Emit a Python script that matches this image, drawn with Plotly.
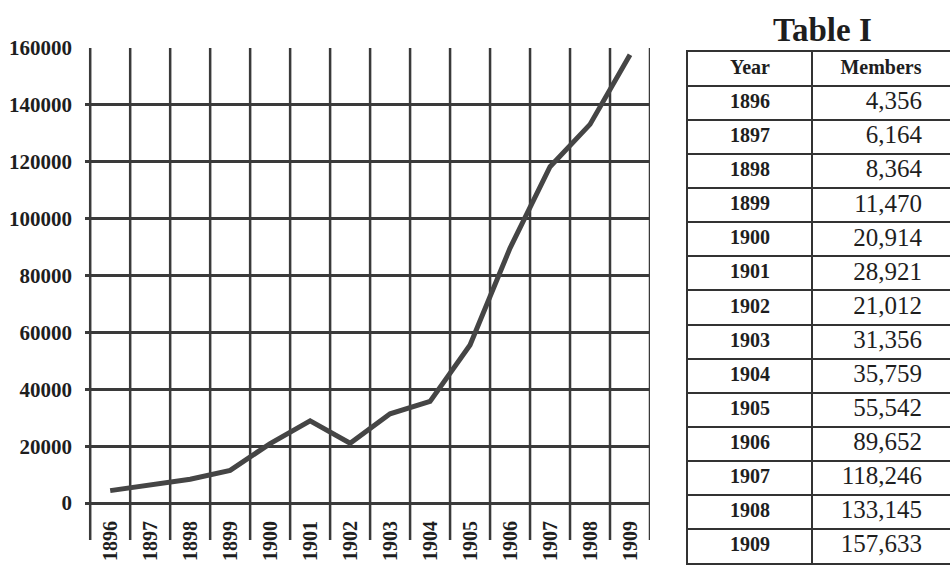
import plotly.graph_objects as go

years = [1896, 1897, 1898, 1899, 1900, 1901, 1902, 1903, 1904, 1905, 1906, 1907, 1908, 1909]
members = [4356, 6164, 8364, 11470, 20914, 28921, 21012, 31356, 35759, 55542, 89652, 118246, 133145, 157633]
y_ticks = [0, 20000, 40000, 60000, 80000, 100000, 120000, 140000, 160000]
table_headers = ["Year", "Members"]

W, H = 950, 566
SERIF = "Liberation Serif, Times New Roman, serif"
GRID = "#3a3a3a"
TXT = "#1e1e1e"

idx = list(range(len(years)))
boundaries = [i - 0.5 for i in range(len(years) + 1)]

fig = go.Figure()

# ---- chart ----
fig.add_trace(go.Scatter(
    x=idx, y=members, mode="lines",
    line=dict(color="#454545", width=5),
    showlegend=False, hoverinfo="skip",
    xaxis="x", yaxis="y",
))

for b in boundaries:
    fig.add_shape(type="line", xref="x", yref="y", x0=b, x1=b, y0=-13000, y1=160000,
                  line=dict(color=GRID, width=2.5), layer="below")

# ---- table drawn on its own axes ----
COL1_W, COL2_W = 124, 138
n_rows = len(years) + 1
row_centers = [i + 1.5 for i in idx]

fig.add_trace(go.Scatter(
    x=[COL1_W / 2, COL1_W + COL2_W / 2], y=[0.5, 0.5], mode="text",
    text=[f"<b>{h}</b>" for h in table_headers], textposition="middle center",
    textfont=dict(family=SERIF, size=20, color=TXT),
    showlegend=False, hoverinfo="skip", xaxis="x2", yaxis="y2",
))
fig.add_trace(go.Scatter(
    x=[COL1_W / 2] * len(years), y=row_centers, mode="text",
    text=[f"<b>{y}</b>" for y in years], textposition="middle center",
    textfont=dict(family=SERIF, size=20, color=TXT),
    showlegend=False, hoverinfo="skip", xaxis="x2", yaxis="y2",
))
fig.add_trace(go.Scatter(
    x=[COL1_W + COL2_W - 28] * len(members), y=row_centers, mode="text",
    text=[f"{m:,}" for m in members], textposition="middle left",
    textfont=dict(family=SERIF, size=25, color=TXT),
    showlegend=False, hoverinfo="skip", xaxis="x2", yaxis="y2",
))

fig.add_annotation(
    text="<b>Table I</b>", xref="paper", yref="paper",
    x=822 / W, y=1 - 30 / H, xanchor="center", yanchor="middle",
    showarrow=False, font=dict(family=SERIF, size=33, color=TXT),
)

fig.update_layout(
    width=W, height=H,
    margin=dict(l=0, r=0, t=0, b=0),
    paper_bgcolor="white", plot_bgcolor="white",
    xaxis=dict(
        domain=[85 / W, 650 / W],
        range=[-0.63, 13.5],
        tickmode="array", tickvals=idx, ticktext=[f"<b>{y}</b>" for y in years],
        tickangle=-90,
        tickfont=dict(family=SERIF, size=20, color=TXT),
        showgrid=False, zeroline=False, showline=False, ticks="",
        ticklabelstandoff=-24,
        automargin=False, fixedrange=True,
    ),
    yaxis=dict(
        domain=[1 - 540 / H, 1 - 48 / H],
        range=[-13000, 160000],
        tickmode="array", tickvals=y_ticks, ticktext=[f"<b>{v}</b>" for v in y_ticks],
        tickfont=dict(family=SERIF, size=21, color=TXT),
        showgrid=True, gridcolor=GRID, gridwidth=2.5,
        zeroline=False, showline=False, ticks="",
        ticklabelstandoff=12,
        automargin=False, fixedrange=True,
    ),
    xaxis2=dict(
        domain=[688 / W, 1.0], anchor="y2",
        range=[0, COL1_W + COL2_W],
        tickmode="array", tickvals=[COL1_W],
        showticklabels=False, ticks="",
        showgrid=True, gridcolor="#333333", gridwidth=2,
        showline=True, linecolor="#333333", linewidth=2, mirror=True,
        zeroline=False, automargin=False, fixedrange=True,
    ),
    yaxis2=dict(
        domain=[1 - 563 / H, 1 - 52 / H], anchor="x2",
        range=[n_rows, 0],
        tickmode="array", tickvals=list(range(1, n_rows)),
        showticklabels=False, ticks="",
        showgrid=True, gridcolor="#333333", gridwidth=2,
        showline=True, linecolor="#333333", linewidth=2, mirror=True,
        zeroline=False, automargin=False, fixedrange=True,
    ),
)

fig.write_html("out.html")
